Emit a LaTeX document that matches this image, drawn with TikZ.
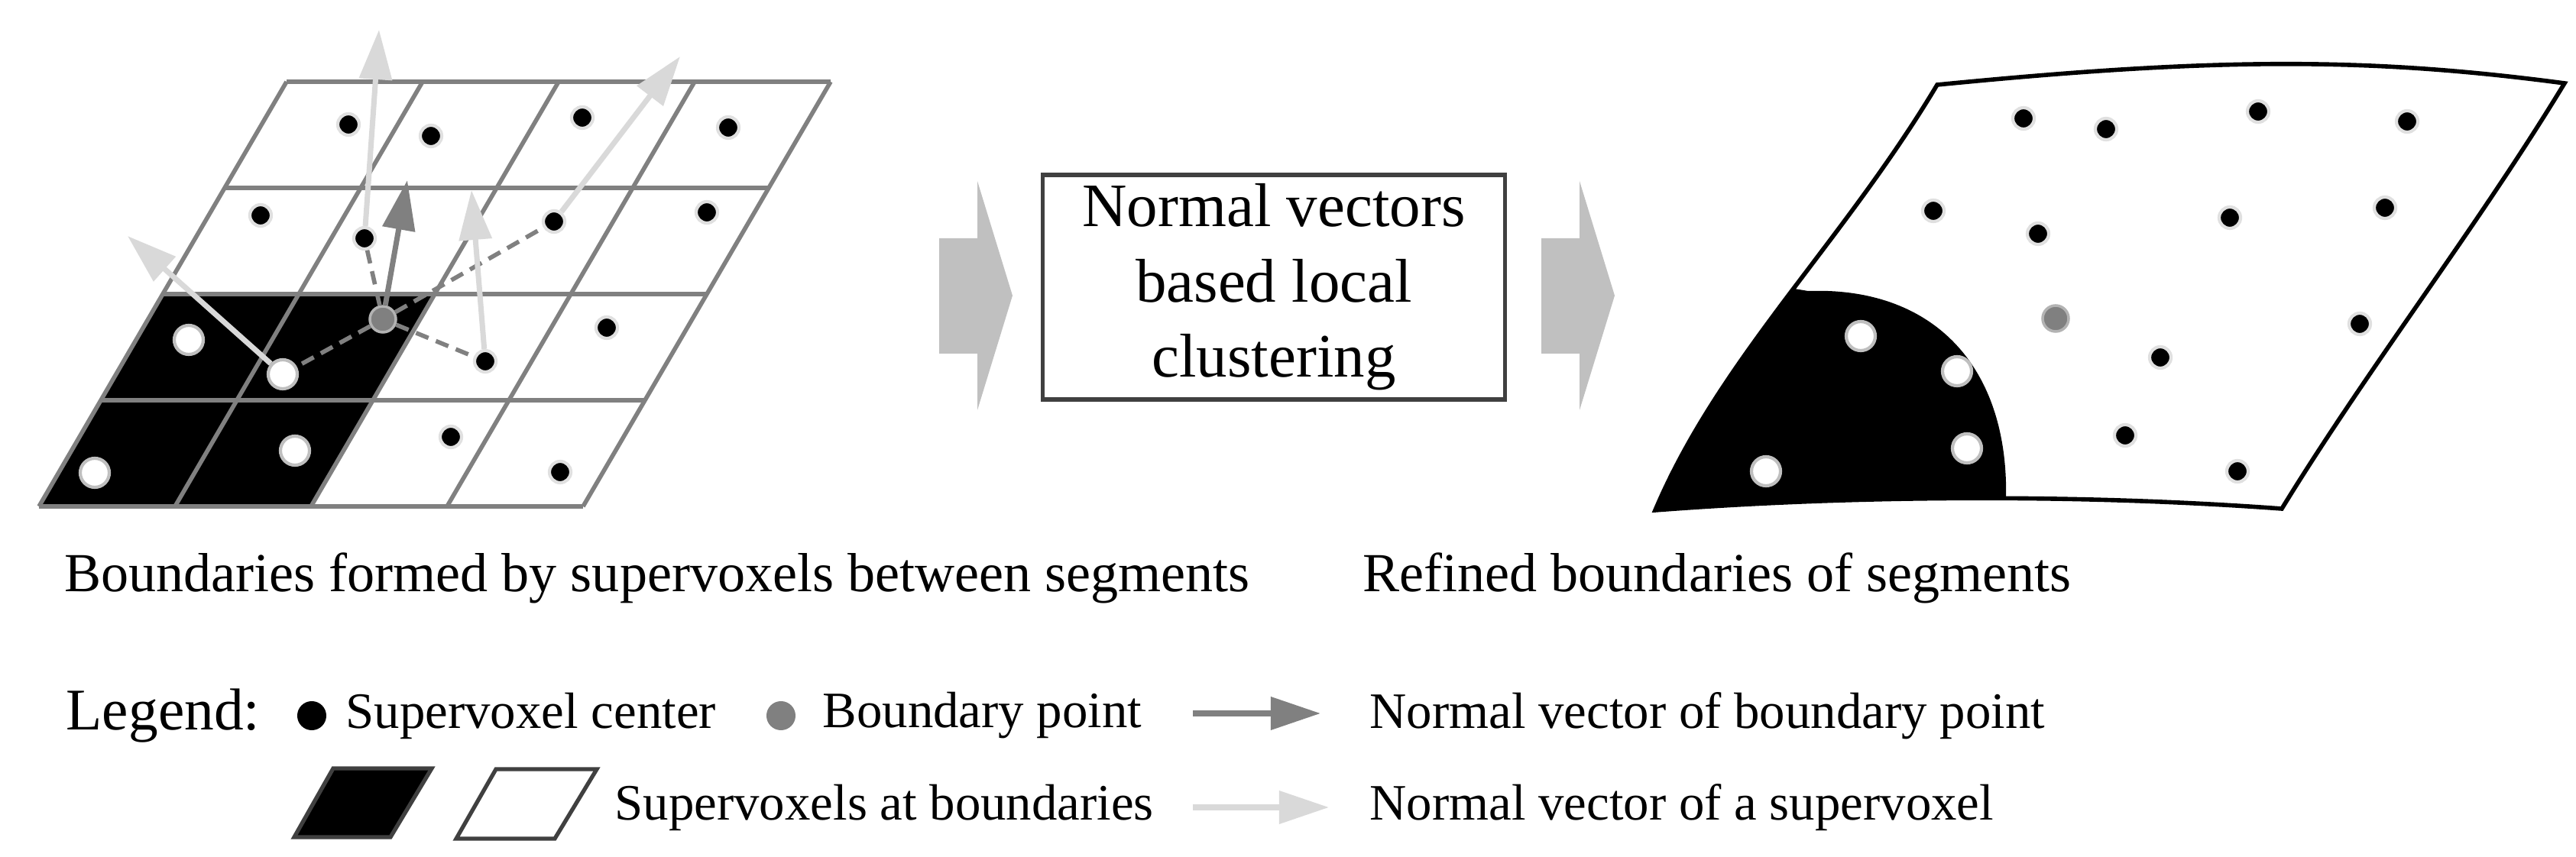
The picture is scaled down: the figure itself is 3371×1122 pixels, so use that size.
\documentclass[tikz,border=0pt]{standalone}
\usepackage{fontspec}
\setmainfont{Liberation Serif}
\usetikzlibrary{arrows.meta}

\definecolor{gridgray}{HTML}{808080}
\definecolor{lightvec}{HTML}{D9D9D9}
\definecolor{blockgray}{HTML}{C0C0C0}

\tikzset{
  cdot/.style={circle,fill=black,draw=black!12,line width=1.2pt,inner sep=0pt,minimum size=0.28cm},
  wdot/.style={circle,fill=white,draw=black!25,line width=1.2pt,inner sep=0pt,minimum size=0.38cm},
  bdot/.style={circle,fill=gridgray,draw=gridgray!60,line width=1pt,inner sep=0pt,minimum size=0.34cm},
  svvec/.style={draw=lightvec,line width=2pt,-{Triangle[length=0.65cm,width=0.42cm]}},
  bpvec/.style={draw=gridgray,line width=2pt,-{Triangle[length=0.65cm,width=0.42cm]}},
  link/.style={draw=gridgray,line width=1.6pt,dash pattern=on 5pt off 3pt},
  cell/.style={draw=gridgray,line width=1.6pt},
  caption/.style={font=\fontsize{20.5}{24}\selectfont,inner sep=0pt},
  legtext/.style={font=\fontsize{19}{23}\selectfont,anchor=west,inner sep=0pt},
}

\begin{document}
\begin{tikzpicture}[x=0.01cm,y=-0.01cm]
\useasboundingbox (0,0) rectangle (3371,1122);

% grid of supervoxels
\fill[black] (51,663) -- (407,663) -- (569,385) -- (213,385) -- cycle;
\foreach \j in {0,...,4}
  \draw[cell] ({51+81*\j},{663-139*\j}) -- ({763+81*\j},{663-139*\j});
\foreach \i in {0,...,4}
  \draw[cell] ({51+178*\i},663) -- ({375+178*\i},107);

% supervoxel centers
\node[cdot] (c30) at (456,163) {};
\node[cdot] (c31) at (564,178) {};
\node[cdot] (c32) at (762,154) {};
\node[cdot] (c33) at (953,167) {};
\node[cdot] (c20) at (341,282) {};
\node[cdot] (c21) at (477,312) {};
\node[cdot] (c22) at (725,290) {};
\node[cdot] (c23) at (925,278) {};
\node[wdot] (c10) at (247,445) {};
\node[wdot] (c11) at (370,490) {};
\node[cdot] (c12) at (635,473) {};
\node[cdot] (c13) at (794,429) {};
\node[wdot] (c00) at (124,619) {};
\node[wdot] (c01) at (386,590) {};
\node[cdot] (c02) at (590,572) {};
\node[cdot] (c03) at (733,618) {};
\node[bdot] (bp) at (501,418) {};

\path[link] (bp) -- (c21);
\path[link] (bp) -- (c22);
\path[link] (bp) -- (c12);
\path[link] (bp) -- (c11);

\coordinate (t21) at (496,39);
\coordinate (t12) at (617,249);
\coordinate (t22) at (890,74);
\coordinate (t11) at (167,309);
\coordinate (tbp) at (533,236);
\path[svvec] (c21) -- (t21);
\path[svvec] (c12) -- (t12);
\path[svvec] (c22) -- (t22);
\path[svvec] (c11) -- (t11);
\path[bpvec] (bp) -- (tbp);

\node[caption] (capl) at (860,757) {Boundaries formed by supervoxels between segments};

% processing step
\fill[blockgray] (1229,312) -- (1279,312) -- (1279,237) -- (1325,387) -- (1279,537) -- (1279,463) -- (1229,463) -- cycle;
\node[draw=black!75,line width=1.5pt,minimum width=6.04cm,minimum height=2.84cm,align=center,
      font=\fontsize{23}{28}\selectfont] (step) at (1667,376) {Normal vectors\\based local\\clustering};
\fill[blockgray] (2017,312) -- (2067,312) -- (2067,237) -- (2113,387) -- (2067,537) -- (2067,463) -- (2017,463) -- cycle;

% refined surface
\begin{scope}
  \clip (2535,111) .. controls (2900,75) and (3100,75) .. (3356,109)
        .. controls (3240,300) and (3100,480) .. (2986,666)
        .. controls (2700,645) and (2400,650) .. (2166,668)
        .. controls (2250,470) and (2410,320) .. (2535,111) -- cycle;
  \fill[black] (2366,381) .. controls (2530,375) and (2630,480) .. (2625,656)
        -- (2625,720) -- (2100,720) -- (2300,370) -- cycle;
\end{scope}
\draw[line width=1.6pt] (2535,111) .. controls (2900,75) and (3100,75) .. (3356,109)
        .. controls (3240,300) and (3100,480) .. (2986,666)
        .. controls (2700,645) and (2400,650) .. (2166,668)
        .. controls (2250,470) and (2410,320) .. (2535,111) -- cycle;

\node[cdot] (r1) at (2648,155) {};
\node[cdot] (r2) at (2756,169) {};
\node[cdot] (r3) at (2955,146) {};
\node[cdot] (r4) at (3150,159) {};
\node[cdot] (r5) at (2530,276) {};
\node[cdot] (r6) at (2667,306) {};
\node[cdot] (r7) at (2918,285) {};
\node[cdot] (r8) at (3121,272) {};
\node[cdot] (r9) at (3088,424) {};
\node[cdot] (r10) at (2827,468) {};
\node[cdot] (r11) at (2781,570) {};
\node[cdot] (r12) at (2928,617) {};
\node[bdot] (rb) at (2690,417) {};
\node[wdot] (w1) at (2435,440) {};
\node[wdot] (w2) at (2561,486) {};
\node[wdot] (w3) at (2574,587) {};
\node[wdot] (w4) at (2311,617) {};

\node[caption] (capr) at (2247,757) {Refined boundaries of segments};

% legend
\node[legtext,font=\fontsize{22}{26}\selectfont] (leg) at (86,937) {Legend:};
\node[cdot,minimum size=0.38cm,draw=none] (lc) at (408,937) {};
\node[legtext] (lct) at (452,937) {Supervoxel center};
\node[bdot,minimum size=0.38cm,draw=none] (lb) at (1022,937) {};
\node[legtext] (lbt) at (1076,937) {Boundary point};
\coordinate (la1) at (1561,934);
\coordinate (la2) at (1728,934);
\path[bpvec] (la1) -- (la2);
\node[legtext] (lat) at (1792,937) {Normal vector of boundary point};
\filldraw[fill=black,draw=black!75,line width=1.5pt] (385,1096) -- (436,1006) -- (565,1006) -- (511,1096) -- cycle;
\filldraw[fill=white,draw=black!75,line width=1.5pt] (597,1098) -- (649,1007) -- (781,1007) -- (726,1098) -- cycle;
\node[legtext] (lst) at (804,1057) {Supervoxels at boundaries};
\coordinate (lv1) at (1561,1057);
\coordinate (lv2) at (1739,1057);
\path[svvec] (lv1) -- (lv2);
\node[legtext] (lvt) at (1792,1057) {Normal vector of a supervoxel};
\end{tikzpicture}
\end{document}
